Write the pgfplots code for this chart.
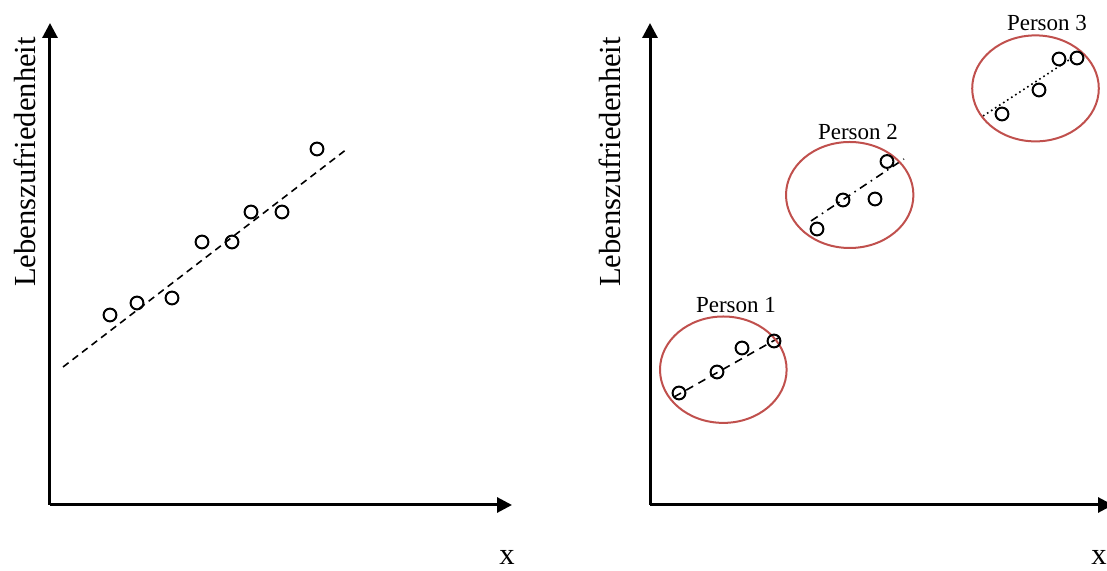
\documentclass[border=0pt]{standalone}
\usepackage{pgfplots}
\pgfplotsset{compat=1.18}
\usepackage{fontspec}
\setmainfont{Liberation Serif}
\usetikzlibrary{arrows.meta}
\definecolor{ellred}{HTML}{C0504D}

% 1 px of the reference = 0.5pt
\pgfplotsset{
  sketch/.style={
    x=0.5pt, y=0.5pt,
    axis lines=left,
    axis line style={line width=1.5pt, -{Triangle[width=7.5pt,length=7.5pt]}},
    xtick=\empty, ytick=\empty,
    ymin=66, ymax=548,
    clip=false,
    anchor=south west,
  },
  pts/.style={only marks, mark=o, mark size=3.2pt, black,
    mark options={line width=1pt}},
}

\begin{document}
\begin{tikzpicture}
\useasboundingbox (0,0) rectangle (553.5pt,285.5pt);

% ---- linkes Diagramm
\begin{axis}[sketch, xmin=50, xmax=512, at={(25pt,33pt)}]
\addplot[pts] coordinates {
  (110,256) (137,268) (172,273) (202,329)
  (232,329) (251,359) (282,359) (317,422)
};
\addplot[black, line width=0.8pt, dash pattern=on 3.5pt off 2.5pt] coordinates {(63,204) (347,422)};
\node[rotate=90, font=\fontsize{15.3}{18}\selectfont] at (axis cs:25,409) {Lebenszufriedenheit};
\node[font=\fontsize{15.3}{18}\selectfont] at (axis cs:507,14) {x};
\end{axis}

% ---- rechtes Diagramm
\begin{axis}[sketch, xmin=650, xmax=1113, at={(325pt,33pt)}]
% Person 1
\addplot[pts] coordinates {(679,178) (717,199) (742,223) (774,230)};
\addplot[black, line width=0.8pt, dash pattern=on 4pt off 3pt] coordinates {(674,174) (782,235)};
% Person 2
\addplot[pts] coordinates {(817,342) (843,371) (875,372) (887,409.5)};
\addplot[black, line width=0.8pt, dash pattern=on 4pt off 2.5pt on 0.8pt off 2.5pt] coordinates {(811,350) (904,412)};
% Person 3
\addplot[pts] coordinates {(1002,457) (1039,481) (1059,512) (1077,513)};
\addplot[black, line width=0.8pt, dash pattern=on 0.8pt off 1.6pt] coordinates {(983,455) (1072,513)};

\draw[ellred, line width=1pt] (axis cs:723.3,201.3) ellipse [x radius=31.65pt, y radius=26.6pt];
\draw[ellred, line width=1pt] (axis cs:849.7,376) ellipse [x radius=31.85pt, y radius=26.5pt];
\draw[ellred, line width=1pt] (axis cs:1035.5,482.6) ellipse [x radius=31.65pt, y radius=26.5pt];

\node[font=\fontsize{11.5}{14}\selectfont] at (axis cs:736,265.5) {Person 1};
\node[font=\fontsize{11.5}{14}\selectfont] at (axis cs:858,439) {Person 2};
\node[font=\fontsize{11.5}{14}\selectfont] at (axis cs:1047,548.4) {Person 3};

\node[rotate=90, font=\fontsize{15.3}{18}\selectfont] at (axis cs:610,409) {Lebenszufriedenheit};
\node[font=\fontsize{15.3}{18}\selectfont] at (axis cs:1099,14) {x};
\end{axis}
\end{tikzpicture}
\end{document}
